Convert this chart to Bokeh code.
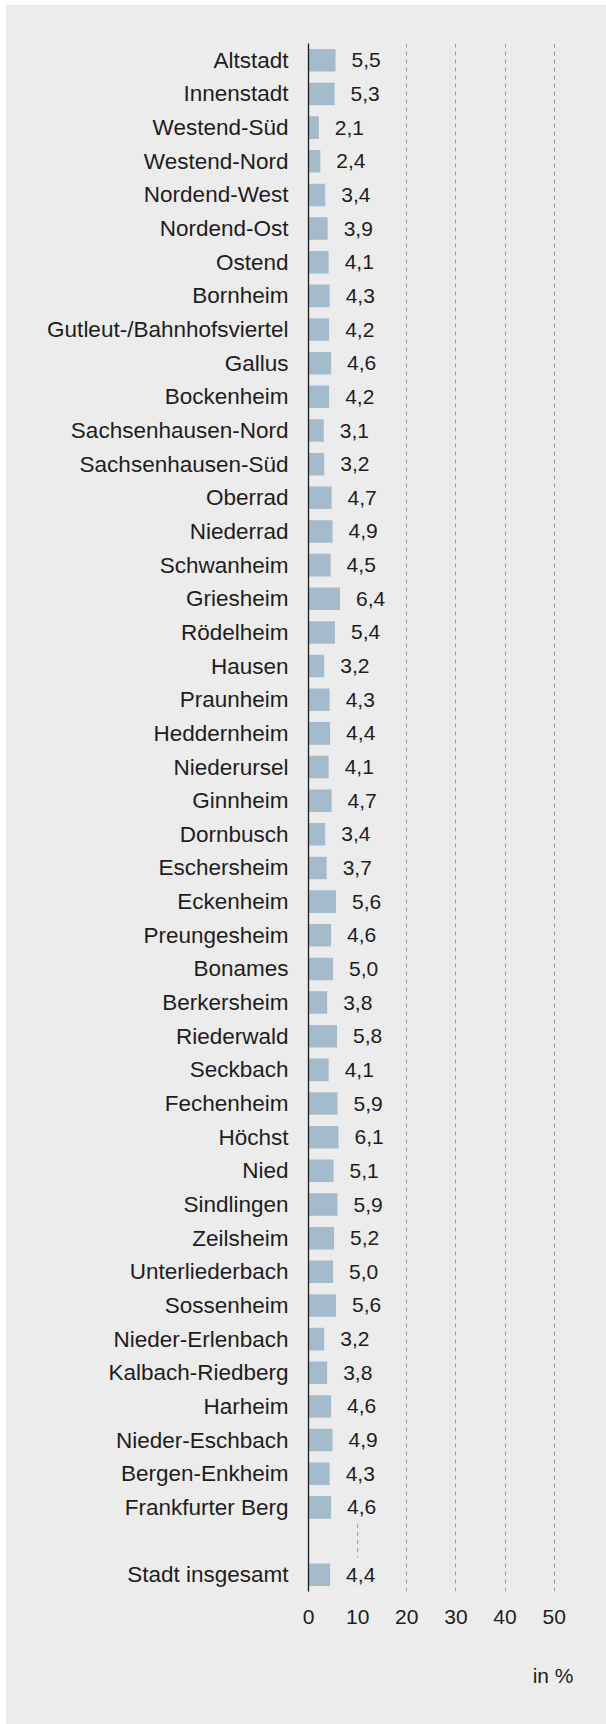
from bokeh.plotting import figure
from bokeh.models import Range1d, FixedTicker, ColumnDataSource, Title
from bokeh.embed import file_html
from bokeh.resources import INLINE
from bokeh.core.properties import value

districts = ["Altstadt", "Innenstadt", "Westend-Süd", "Westend-Nord", "Nordend-West",
             "Nordend-Ost", "Ostend", "Bornheim", "Gutleut-/Bahnhofsviertel", "Gallus",
             "Bockenheim", "Sachsenhausen-Nord", "Sachsenhausen-Süd", "Oberrad", "Niederrad",
             "Schwanheim", "Griesheim", "Rödelheim", "Hausen", "Praunheim", "Heddernheim",
             "Niederursel", "Ginnheim", "Dornbusch", "Eschersheim", "Eckenheim", "Preungesheim",
             "Bonames", "Berkersheim", "Riederwald", "Seckbach", "Fechenheim", "Höchst", "Nied",
             "Sindlingen", "Zeilsheim", "Unterliederbach", "Sossenheim", "Nieder-Erlenbach",
             "Kalbach-Riedberg", "Harheim", "Nieder-Eschbach", "Bergen-Enkheim", "Frankfurter Berg"]
values = [5.5, 5.3, 2.1, 2.4, 3.4, 3.9, 4.1, 4.3, 4.2, 4.6, 4.2, 3.1, 3.2, 4.7, 4.9, 4.5,
          6.4, 5.4, 3.2, 4.3, 4.4, 4.1, 4.7, 3.4, 3.7, 5.6, 4.6, 5.0, 3.8, 5.8, 4.1, 5.9,
          6.1, 5.1, 5.9, 5.2, 5.0, 5.6, 3.2, 3.8, 4.6, 4.9, 4.3, 4.6]
total_label = "Stadt insgesamt"
total_value = 4.4
x_ticks = [0, 10, 20, 30, 40, 50]
grid_ticks = [20, 30, 40, 50]
unit_label = "in %"

BG = "#ececec"
TXT = "#1f1c1d"
BAR = "#a3bbca"
FONT = "Liberation Sans"

n = len(districts)
labels = districts + [total_label]
vals = values + [total_value]
ys = list(range(n)) + [n + 1]
src = ColumnDataSource(dict(y=ys, v=vals, name=labels,
                            txt=[f"{x:.1f}".replace(".", ",") for x in vals]))

p = figure(width=601, height=1720, margin=(4, 0, 0, 5), output_backend="svg", toolbar_location=None,
           x_range=Range1d(0, 58), y_range=Range1d(n + 1.5, -0.5),
           min_border_left=303, min_border_right=13, min_border_top=39, min_border_bottom=133,
           background_fill_color=BG, border_fill_color=BG, outline_line_color=None)

p.hbar(y="y", right="v", left=0, height=0.67, source=src, color=BAR, line_color=None)
p.text(x="v", y="y", text="txt", source=src, x_offset=16, text_align="left",
       text_baseline="middle", text_font=value(FONT), text_font_size="21px", text_color=TXT)

# short dashed 10-line in the gap row
p.segment(x0=[x_ticks[1]], x1=[x_ticks[1]], y0=[n - 0.5], y1=[n + 0.5],
          line_color="#9a9a9a", line_width=1, line_dash="4 4")

p.xgrid.ticker = FixedTicker(ticks=grid_ticks)
p.xgrid.grid_line_color = "#9a9a9a"
p.xgrid.grid_line_dash = "4 4"
p.xgrid.grid_line_width = 1
p.ygrid.grid_line_color = None

xa = p.xaxis[0]
xa.ticker = FixedTicker(ticks=x_ticks)
xa.axis_line_color = None
xa.major_tick_line_color = None
xa.minor_tick_line_color = None
xa.major_tick_out = 0
xa.major_label_standoff = 18
xa.major_label_text_font = FONT
xa.major_label_text_font_size = "21px"
xa.major_label_text_color = TXT

ya = p.yaxis[0]
ya.ticker = FixedTicker(ticks=ys)
ya.major_label_overrides = {y: l for y, l in zip(ys, labels)}
ya.axis_line_color = "#1a1a1a"
ya.axis_line_width = 1.3
ya.major_tick_line_color = None
ya.minor_tick_line_color = None
ya.major_tick_out = 0
ya.major_tick_in = 0
ya.major_label_standoff = 20
ya.major_label_text_font = FONT
ya.major_label_text_font_size = "22.5px"
ya.major_label_text_color = TXT

p.add_layout(Title(text=unit_label, align="right", offset=20, standoff=70,
                   text_font=FONT, text_font_size="21px", text_font_style="normal",
                   text_color=TXT), "below")

open("out.html", "w").write(file_html(p, INLINE))
